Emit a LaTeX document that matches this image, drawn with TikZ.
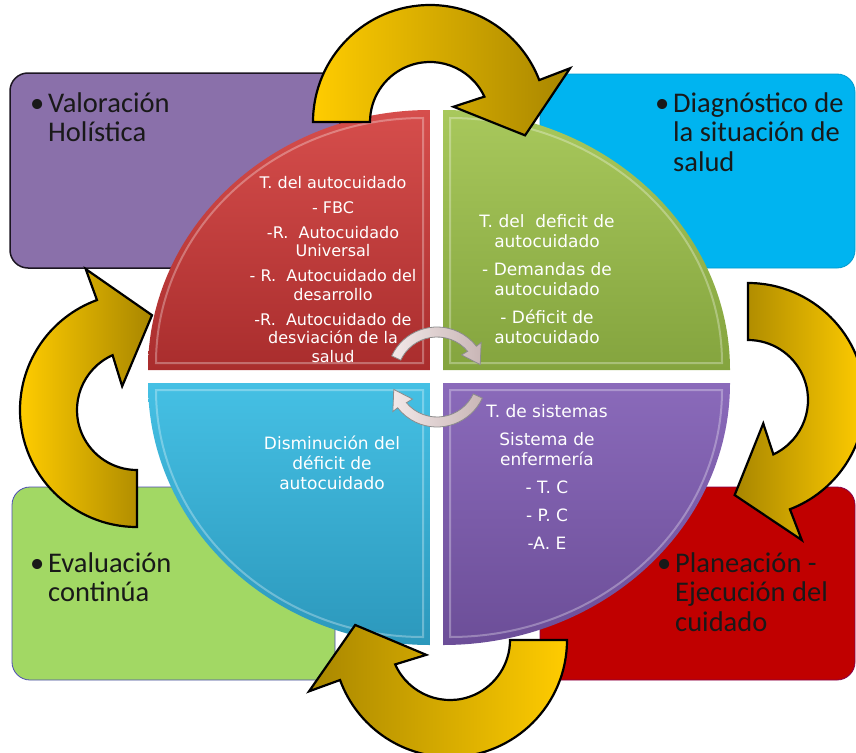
\documentclass[tikz,border=0pt]{standalone}
\usepackage{fontspec}
\setmainfont{Carlito}
\newfontfamily\qfont{DejaVu Sans}
\definecolor{boxPurple}{HTML}{8A70AA}
\definecolor{boxCyan}{HTML}{00B4F0}
\definecolor{boxGreen}{HTML}{A2D864}
\definecolor{boxRed}{HTML}{C00000}
\definecolor{qRedT}{HTML}{D64E4C}
\definecolor{qRedB}{HTML}{A92D2D}
\definecolor{qGreenT}{HTML}{A8C85C}
\definecolor{qGreenB}{HTML}{84A43E}
\definecolor{qBlueT}{HTML}{45C0E4}
\definecolor{qBlueB}{HTML}{2C98BC}
\definecolor{qPurpT}{HTML}{8A6ABA}
\definecolor{qPurpB}{HTML}{6C4E98}
\definecolor{arrY}{HTML}{FFCC00}
\definecolor{arrD}{HTML}{A88600}
\definecolor{smallA}{HTML}{F2E8E8}
\definecolor{smallB}{HTML}{C9B6B6}
\newcommand\qlines[1]{\begin{tabular}[t]{@{}c@{}}#1\end{tabular}}
\newcommand\blines[1]{\begin{tabular}[t]{@{}l@{}l@{}}#1\end{tabular}}
\newcommand\bul{\makebox[18pt][l]{•}}
\newcommand\cyclearrow[5]{%
  \pgfmathsetmacro\caOE{#4+2}%
  \pgfmathsetmacro\caIE{#4-2}%
  \pgfmathsetmacro\caBI{#4-10}%
  \pgfmathsetmacro\caTP{#4+31}%
  \begin{scope}[shift={(#1,#2)}]
    \path[#5] (#3:117) arc[start angle=#3, end angle=\caOE, radius=117]
      -- (\caOE:150) -- (\caTP:96) -- (\caBI:28) -- (\caIE:60)
      arc[start angle=\caIE, end angle=#3, radius=60] -- cycle;
  \end{scope}}
\begin{document}
\begin{tikzpicture}[x=1pt,y=-1pt,
  box/.style={rounded corners=18pt},
  boxtext/.style={inner sep=0pt, anchor=base west, text=black!90,
    font=\fontsize{28.5}{29.5}\selectfont},
  qtext/.style={inner sep=0pt, anchor=base, text=white},
  bevel/.style={draw=white, opacity=0.3, line width=2pt},
  bigarrow/.style={draw=black, line width=2.2pt, line join=miter},
  smallarrow/.style={draw=black!45, line width=0.8pt, left color=smallA, right color=smallB}]
\useasboundingbox (0,0) rectangle (856,752);
\clip (0,0) rectangle (856,752);

% corner boxes
\path[box, fill=boxPurple, draw=black!80!boxPurple, line width=1.5pt] (10,73) rectangle (340,268);
\path[box, fill=boxCyan, draw=boxCyan!85!black, line width=0.8pt] (540,74) rectangle (855,268);
\path[box, fill=boxGreen, draw=blue!40!gray, line width=0.8pt] (12,487) rectangle (335,680);
\path[box, fill=boxRed, draw=boxRed!70!blue, line width=0.8pt] (540,487) rectangle (855,680);

\node[boxtext] (valoracion) at (30,112) {\blines{\bul&Valoración\\&Holística}};
\node[boxtext] (diagnostico) at (655,112) {\blines{\bul&Diagnóstico de\\&la situación de\\&salud}};
\node[boxtext] (evaluacion) at (30,572) {\blines{\bul&Evaluación\\&continúa}};
\node[boxtext] (planeacion) at (657,572) {\blines{\bul&Planeación -\\&Ejecución del\\&cuidado}};

% quadrants
\path[top color=qRedT, bottom color=qRedB] (430,370) -- (148,370)
  arc[start angle=180, end angle=270, x radius=282, y radius=260] -- cycle;
\path[top color=qGreenT, bottom color=qGreenB] (443,370) -- (443,110)
  arc[start angle=270, end angle=360, x radius=287, y radius=260] -- cycle;
\path[top color=qBlueT, bottom color=qBlueB] (430,383) -- (430,645)
  arc[start angle=90, end angle=180, x radius=282, y radius=262] -- cycle;
\path[top color=qPurpT, bottom color=qPurpB] (443,383) -- (730,383)
  arc[start angle=0, end angle=90, x radius=287, y radius=262] -- cycle;
\path[bevel] (423,363) -- (156,363)
  arc[start angle=180, end angle=270, x radius=267, y radius=245] -- cycle;
\path[bevel] (450,363) -- (450,118)
  arc[start angle=270, end angle=360, x radius=272, y radius=245] -- cycle;
\path[bevel] (423,390) -- (423,637)
  arc[start angle=90, end angle=180, x radius=267, y radius=247] -- cycle;
\path[bevel] (450,390) -- (722,390)
  arc[start angle=0, end angle=90, x radius=272, y radius=247] -- cycle;

\node[qtext, font=\qfont\fontsize{16}{18.5}\selectfont] (autocuidado) at (333,188)
  {\qlines{T. del autocuidado\\[6.5pt] - FBC\\[6.5pt] -R.\ \ Autocuidado\\ Universal\\[6.5pt]
   - R.\ \ Autocuidado del\\ desarrollo\\[6.5pt] -R.\ \ Autocuidado de\\ desviación de la\\ salud}};
\node[qtext, font=\qfont\fontsize{17}{20}\selectfont] (deficit) at (547,227)
  {\qlines{T. del\ \ deficit de\\ autocuidado\\[8pt] - Demandas de\\ autocuidado\\[8pt]
   - Déficit de\\ autocuidado}};
\node[qtext, font=\qfont\fontsize{17}{20}\selectfont] (disminucion) at (332,449)
  {\qlines{Disminución del\\ déficit de\\ autocuidado}};
\node[qtext, font=\qfont\fontsize{17}{20.5}\selectfont] (sistemas) at (547,417)
  {\qlines{T. de sistemas\\[7.5pt] Sistema de\\ enfermería\\[7pt] - T. C\\[7.5pt] - P. C\\[7.5pt] -A. E}};

% big cycle arrows
\cyclearrow{430}{122}{180}{337}{bigarrow, left color=arrY, right color=arrD}
\cyclearrow{748}{400}{-90}{67}{bigarrow, left color=arrD, right color=arrY}
\cyclearrow{450}{640}{0}{158}{bigarrow, left color=arrD, right color=arrY}
\cyclearrow{137}{410}{90}{248}{bigarrow, left color=arrY, right color=arrD}

% small central arrows
\begin{scope}[shift={(437,377)}]
  \path[smallarrow] (205:50) arc[start angle=205, end angle=322, radius=50]
    -- (322:56) -- (344:45) -- (318:33) -- (320:40)
    arc[start angle=320, end angle=205, radius=40] -- cycle;
  \path[smallarrow] (25:50) arc[start angle=25, end angle=142, radius=50]
    -- (142:56) -- (164:45) -- (138:33) -- (140:40)
    arc[start angle=140, end angle=25, radius=40] -- cycle;
\end{scope}
\end{tikzpicture}
\end{document}
